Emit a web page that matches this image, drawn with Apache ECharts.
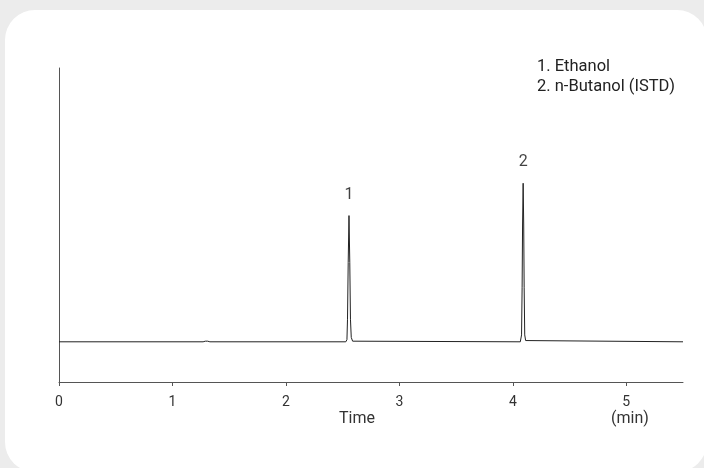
<!DOCTYPE html>
<html>
<head>
<meta charset="utf-8">
<script src="https://cdn.jsdelivr.net/npm/echarts@6/dist/echarts.min.js"></script>
<style>
  html, body { margin: 0; padding: 0; background: #ececec; }
  #main { width: 704px; height: 468px; }
</style>
</head>
<body>
<div id="main"></div>
<script>
// chromatogram trace (time in min, detector response)
var times = [0, 1.27, 1.29, 1.30, 1.31, 1.33, 2.528, 2.538, 2.543, 2.549, 2.556, 2.563, 2.569, 2.576, 2.588, 2.60, 4.066, 4.077, 4.082, 4.086, 4.091, 4.096, 4.100, 4.105, 4.113, 4.125, 5.5];
var response = [12.8, 12.8, 13.0, 13.6, 13.0, 12.8, 12.8, 13.5, 20, 38, 53, 38, 20, 14.2, 13.0, 12.8, 12.8, 15, 30, 50, 63.3, 50, 30, 15, 13.2, 12.8, 12.8];
var peakTimes = [2.556, 4.091];
var peakHeights = [53, 63.3];
var peakNames = ['1', '2'];
var xTicks = [0, 1, 2, 3, 4, 5];
var legendLines = ['1. Ethanol', '2. n-Butanol (ISTD)'];

var font = "'Roboto', sans-serif";

var myChart = echarts.init(document.getElementById('main'));

var traceData = [];
for (var i = 0; i < times.length; i++) {
  traceData.push([times[i], response[i]]);
}
var peakData = [];
for (var j = 0; j < peakTimes.length; j++) {
  peakData.push({ value: [peakTimes[j], peakHeights[j]], name: peakNames[j] });
}

myChart.setOption({
  backgroundColor: '#ececec',
  animation: false,
  graphic: [
    {
      type: 'rect',
      z: -10,
      shape: { x: 5, y: 10, width: 702, height: 462, r: 30 },
      style: { fill: '#ffffff' }
    },
    {
      type: 'text',
      left: 537,
      top: 57,
      style: { text: legendLines.join('\n'), fill: '#222', fontSize: 16.5, lineHeight: 20, fontFamily: font }
    },
    {
      type: 'text',
      left: 339,
      top: 411,
      style: { text: 'Time', fill: '#333', fontSize: 16, fontFamily: font }
    },
    {
      type: 'text',
      left: 611,
      top: 411,
      style: { text: '(min)', fill: '#333', fontSize: 16, fontFamily: font }
    }
  ],
  grid: { left: 59, top: 68, right: 21, bottom: 86 },
  xAxis: {
    type: 'value',
    min: 0,
    max: 5.5,
    interval: 1,
    axisLine: { show: true, lineStyle: { color: '#555', width: 1 } },
    axisTick: { show: true, inside: false, length: 4, lineStyle: { color: '#555' } },
    axisLabel: {
      color: '#333',
      fontSize: 14,
      fontFamily: font,
      margin: 13,
      showMaxLabel: false,
      formatter: function (v) { return xTicks.indexOf(v) >= 0 ? String(v) : ''; }
    },
    splitLine: { show: false }
  },
  yAxis: {
    type: 'value',
    min: 0,
    max: 100,
    axisLine: { show: true, lineStyle: { color: '#555', width: 1 } },
    axisTick: { show: false },
    axisLabel: { show: false },
    splitLine: { show: false }
  },
  series: [
    {
      name: 'Signal',
      type: 'line',
      data: traceData,
      showSymbol: false,
      symbol: 'none',
      lineStyle: { color: '#222', width: 1 }
    },
    {
      name: 'Peaks',
      type: 'scatter',
      data: peakData,
      symbolSize: 2,
      itemStyle: { color: 'rgba(0,0,0,0)' },
      label: {
        show: true,
        position: 'top',
        distance: 12,
        formatter: '{b}',
        color: '#111',
        fontSize: 16,
        fontFamily: font
      },
      labelLayout: { hideOverlap: false }
    }
  ]
});
</script>
</body>
</html>
